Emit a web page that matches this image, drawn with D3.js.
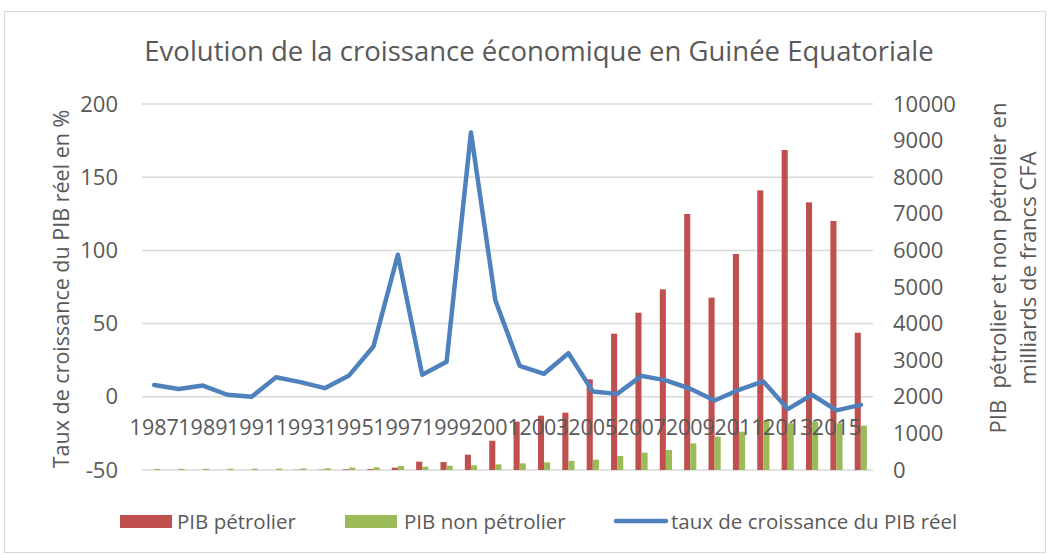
<!DOCTYPE html>
<html>
<head>
<meta charset="utf-8">
<script src="https://cdn.jsdelivr.net/npm/d3@7"></script>
<style>
  body { margin: 0; background: #fff; }
  svg text { font-family: "Open Sans", "Noto Sans", sans-serif; fill: #595959; }
</style>
</head>
<body>
<svg id="chart" width="1050" height="555"></svg>
<script>
const years = d3.range(1987, 2017).map(String);
const growth = [8, 5.3, 7.7, 1.4, 0, 13.4, 10, 5.9, 14.6, 34.4, 97, 15, 24, 180.5, 66, 21.2, 15.7, 29.8, 3.6, 2, 14.3, 11.2, 5.5, -2.5, 4.8, 10.5, -8.4, 1.4, -9.3, -5.5];
const pibPetrolier = [0, 0, 0, 0, 0, 0, 8, 10, 20, 25, 64, 228, 218, 419, 800, 1320, 1484, 1566, 2477, 3725, 4298, 4936, 6995, 4709, 5902, 7641, 8743, 7313, 6803, 3752];
const pibNonPetrolier = [30, 32, 33, 34, 35, 37, 40, 45, 64, 73, 109, 91, 118, 128, 155, 182, 210, 250, 285, 383, 474, 546, 729, 910, 1047, 1366, 1275, 1320, 1275, 1211];
const leftTicks = [-50, 0, 50, 100, 150, 200];
const rightTicks = [0, 1000, 2000, 3000, 4000, 5000, 6000, 7000, 8000, 9000, 10000];
const xLabels = years.filter((d, i) => i % 2 === 0);

const title = "Evolution de la croissance économique en Guinée Equatoriale";
const leftTitle = "Taux de croissance du PIB réel en %";
const rightTitle = ["PIB  pétrolier et non pétrolier en", "milliards de francs CFA"];
const seriesNames = ["PIB pétrolier", "PIB non pétrolier", "taux de croissance du PIB réel"];
const colors = { pet: "#c0504d", non: "#9bbb59", line: "#4f81bd" };

const svg = d3.select("#chart");
const plot = { left: 142, right: 873, top: 104, bottom: 470 };

// chart border
svg.append("rect").attr("x", 4.5).attr("y", 11.5).attr("width", 1041).attr("height", 541)
  .attr("fill", "#fff").attr("stroke", "#d9d9d9").attr("stroke-width", 1);

const x = d3.scaleBand().domain(years).range([plot.left, plot.right]).paddingInner(0.5).paddingOuter(0.25);
const x1 = d3.scaleBand().domain(["pet", "non"]).range([0, x.bandwidth()]);
const yL = d3.scaleLinear().domain([-50, 200]).range([plot.bottom, plot.top]);
const yR = d3.scaleLinear().domain([0, 10000]).range([plot.bottom, plot.top]);
const plain = d => String(d);

// gridlines
svg.append("g").selectAll("line").data(leftTicks).join("line")
  .attr("x1", plot.left).attr("x2", plot.right)
  .attr("y1", d => yL(d)).attr("y2", d => yL(d))
  .attr("stroke", "#d9d9d9").attr("stroke-width", 1.5);

// left axis labels
const axL = svg.append("g").attr("transform", `translate(${plot.left - 24},0)`)
  .call(d3.axisLeft(yL).tickValues(leftTicks).tickFormat(plain).tickSize(0).tickPadding(0));
axL.select(".domain").remove();
axL.selectAll("text").style("font-size", "22px").attr("fill", "#595959").style("font-family", null);

// right axis labels
const axR = svg.append("g").attr("transform", `translate(${plot.right + 20},0)`)
  .call(d3.axisRight(yR).tickValues(rightTicks).tickFormat(plain).tickSize(0).tickPadding(0));
axR.select(".domain").remove();
axR.selectAll("text").style("font-size", "22px").attr("fill", "#595959").style("font-family", null);

// bars
const barData = years.map((y, i) => ({ year: y, pet: pibPetrolier[i], non: pibNonPetrolier[i] }));
const groups = svg.append("g").selectAll("g").data(barData).join("g")
  .attr("transform", d => `translate(${x(d.year)},0)`);
groups.selectAll("rect").data(d => ["pet", "non"].map(k => ({ key: k, value: d[k] }))).join("rect")
  .attr("x", d => x1(d.key)).attr("width", x1.bandwidth())
  .attr("y", d => yR(d.value)).attr("height", d => yR(0) - yR(d.value))
  .attr("fill", d => colors[d.key]);

// category labels at 0 of left axis
const axX = svg.append("g").attr("transform", `translate(0,${yL(0)})`)
  .call(d3.axisBottom(x).tickValues(xLabels).tickSize(0).tickPadding(23));
axX.select(".domain").remove();
axX.selectAll("text").style("font-size", "21.5px").attr("fill", "#595959").style("font-family", null);

// line
const line = d3.line().x((d, i) => x(years[i]) + x.bandwidth() / 2).y(d => yL(d));
svg.append("path").datum(growth).attr("d", line)
  .attr("fill", "none").attr("stroke", colors.line).attr("stroke-width", 4.5)
  .attr("stroke-linejoin", "round").attr("stroke-linecap", "round");

// title
svg.append("text").attr("x", 539).attr("y", 50).attr("text-anchor", "middle")
  .attr("dominant-baseline", "central").style("font-size", "27.5px").text(title);

// axis titles
svg.append("text").attr("transform", "translate(60,289) rotate(-90)")
  .attr("text-anchor", "middle").attr("dominant-baseline", "central")
  .style("font-size", "21.5px").text(leftTitle);
svg.append("text").attr("transform", "translate(997,268) rotate(-90)")
  .attr("text-anchor", "middle").attr("dominant-baseline", "central")
  .style("font-size", "22px").style("white-space", "pre").text(rightTitle[0]);
svg.append("text").attr("transform", "translate(1027,268) rotate(-90)")
  .attr("text-anchor", "middle").attr("dominant-baseline", "central")
  .style("font-size", "22px").text(rightTitle[1]);

// legend
const leg = svg.append("g");
const legItems = [
  { name: seriesNames[0], type: "rect", color: colors.pet, x: 120, tx: 177 },
  { name: seriesNames[1], type: "rect", color: colors.non, x: 345, tx: 404 },
  { name: seriesNames[2], type: "line", color: colors.line, x: 614, tx: 671 }
];
legItems.forEach(it => {
  if (it.type === "rect") {
    leg.append("rect").attr("x", it.x).attr("y", 515).attr("width", 52).attr("height", 13).attr("fill", it.color);
  } else {
    leg.append("line").attr("x1", it.x + 2).attr("x2", it.x + 52).attr("y1", 521).attr("y2", 521)
      .attr("stroke", it.color).attr("stroke-width", 4.5).attr("stroke-linecap", "round");
  }
  leg.append("text").attr("x", it.tx).attr("y", 521).attr("dominant-baseline", "central")
    .style("font-size", "20.5px").text(it.name);
});
</script>
</body>
</html>
